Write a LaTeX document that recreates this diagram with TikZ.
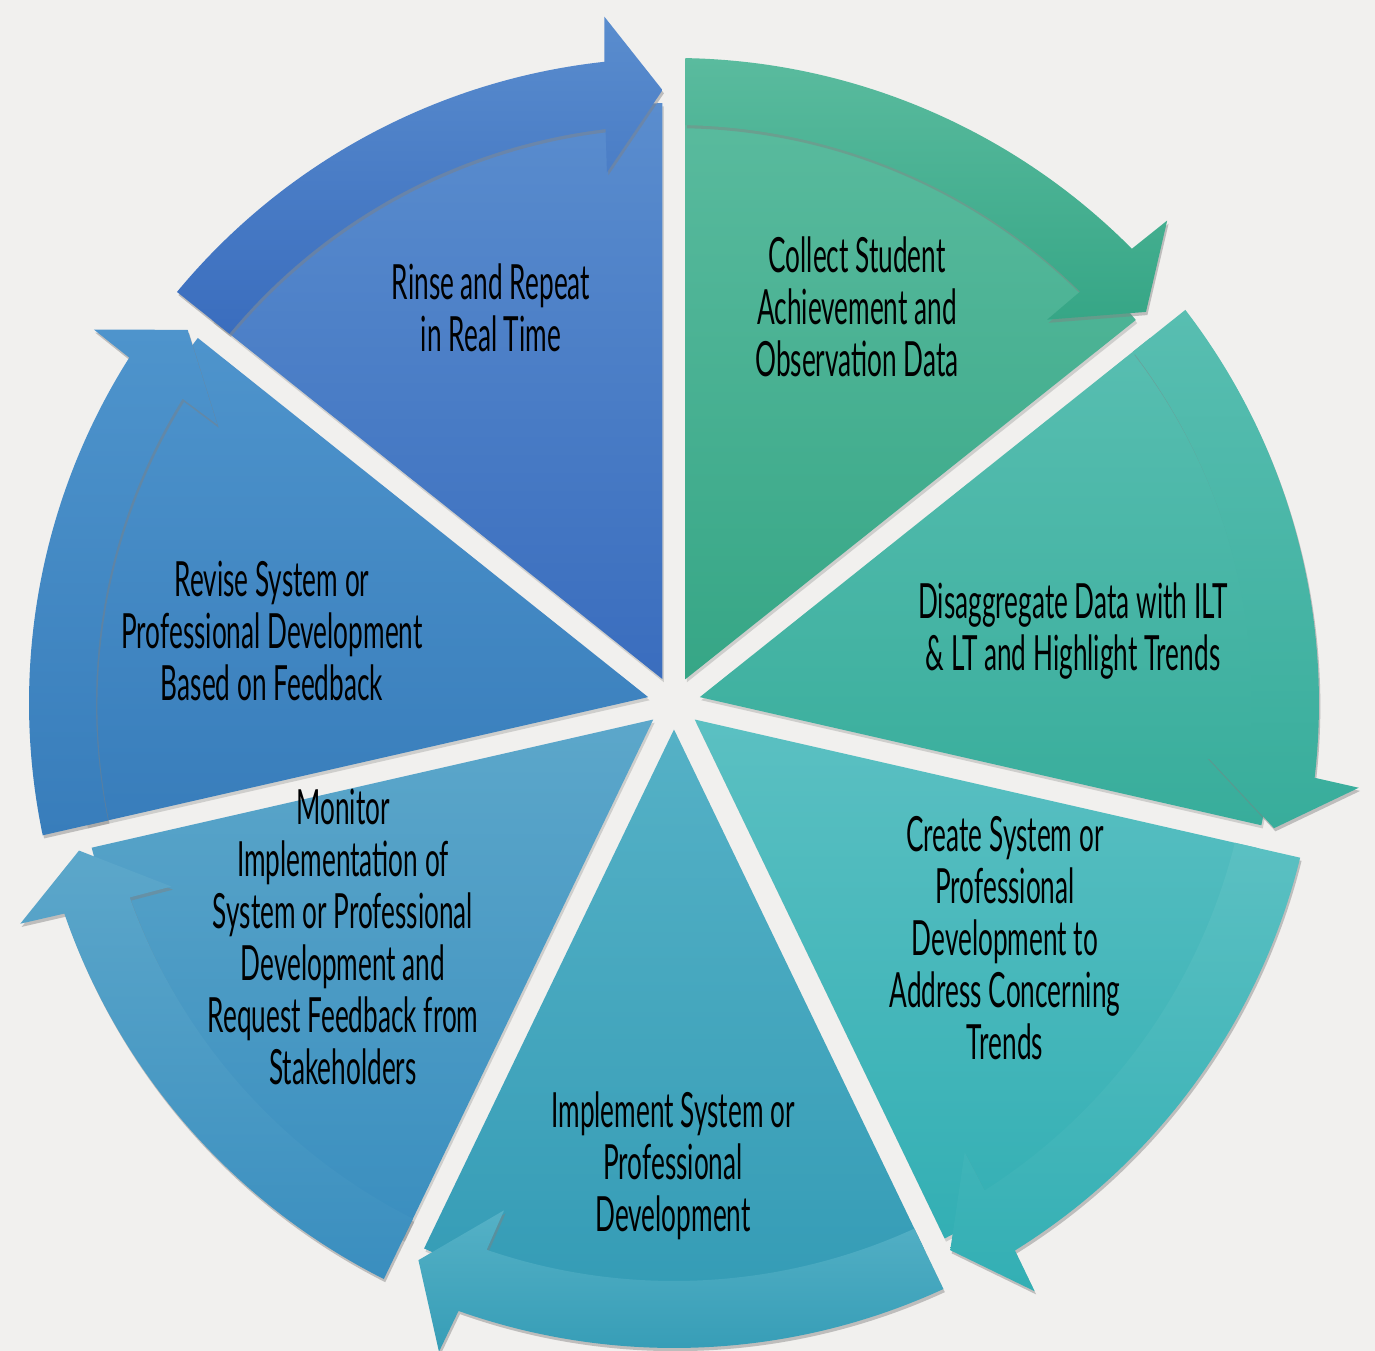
\documentclass[tikz,border=0pt]{standalone}
\usepackage{fontspec}
\newfontfamily\cyclefont[FakeStretch=0.54]{Lato}
\usetikzlibrary{shadows}
\definecolor{paper}{HTML}{F1F0EE}
\definecolor{rinsetop}{HTML}{5A8DCE}
\definecolor{rinsebot}{HTML}{3A6DBE}
\definecolor{collecttop}{HTML}{5ABB9E}
\definecolor{collectbot}{HTML}{36A686}
\definecolor{disaggtop}{HTML}{58BEB1}
\definecolor{disaggbot}{HTML}{38AD9B}
\definecolor{createtop}{HTML}{5BC0C2}
\definecolor{createbot}{HTML}{33AFB4}
\definecolor{impltop}{HTML}{55B1C6}
\definecolor{implbot}{HTML}{339BB5}
\definecolor{monitortop}{HTML}{5CA7CA}
\definecolor{monitorbot}{HTML}{3A8EBF}
\definecolor{revisetop}{HTML}{4E94CC}
\definecolor{revisebot}{HTML}{387DBB}

\begin{document}
\begin{tikzpicture}[%
        x=0.01cm, y=0.01cm,
        every node/.style={align=center, inner sep=0pt,
          font=\cyclefont\fontsize{13.8}{14.8}\selectfont},
        wedge/.style={drop shadow={shadow xshift=0.4pt, shadow yshift=-0.9pt, opacity=0.3}},
        band/.style={drop shadow={shadow xshift=0.4pt, shadow yshift=-0.9pt, opacity=0.45}},
        pics/segment/.style n args={3}{code={
          \pgfmathsetmacro\ga{#1}
          \pgfmathsetmacro\gb{#1-51.4286}
          % pie part of the step
          \path[wedge, top color=#2, bottom color=#3]
            ({(\ga+\gb)/2}:26.5) -- ({\ga-asin(11.5/600)}:600)
            arc[start angle={\ga-asin(11.5/600)}, end angle={\gb+asin(11.5/600)}, radius=600]
            -- cycle;
          % curved arrow on the rim
          \path[band, top color=#2, bottom color=#3]
            ({\ga-asin(11.5/645)}:645)
            arc[start angle={\ga-asin(11.5/645)}, end angle={\gb+6.2}, radius=645]
            -- ({\gb+5.8}:690) -- ({\gb+asin(11.5/613)}:613) -- ({\gb+7.2}:535)
            -- ({\gb+6.8}:578)
            arc[start angle={\gb+6.8}, end angle={\ga-asin(11.5/578)}, radius=578]
            -- cycle;
        }}
      ]
      \fill[paper] (-674,-648) rectangle (701,703);
      \useasboundingbox (-674,-648) rectangle (701,703);

      \pic {segment={141.4286}{rinsetop}{rinsebot}};
      \pic {segment={90}{collecttop}{collectbot}};
      \pic {segment={38.5714}{disaggtop}{disaggbot}};
      \pic {segment={-12.8571}{createtop}{createbot}};
      \pic {segment={-64.2857}{impltop}{implbot}};
      \pic {segment={-115.7143}{monitortop}{monitorbot}};
      \pic {segment={-167.1429}{revisetop}{revisebot}};

      \node (rinse) at (-183,395) {Rinse and Repeat\\in Real Time};
      \node (collect) at (183,396) {Collect Student\\Achievement and\\Observation Data};
      \node (disagg) at (399,72) {Disaggregate Data with ILT\\\& LT and Highlight Trends};
      \node (create) at (331,-235) {Create System or\\Professional\\Development to\\Address Concerning\\Trends};
      \node (implement) at (-1,-463) {Implement System or\\Professional\\Development};
      \node (monitor) at (-331,-234) {Monitor\\Implementation of\\System or Professional\\Development and\\Request Feedback from\\Stakeholders};
      \node (revise) at (-402,72) {Revise System or\\Professional Development\\Based on Feedback};
    \end{tikzpicture}
\end{document}
